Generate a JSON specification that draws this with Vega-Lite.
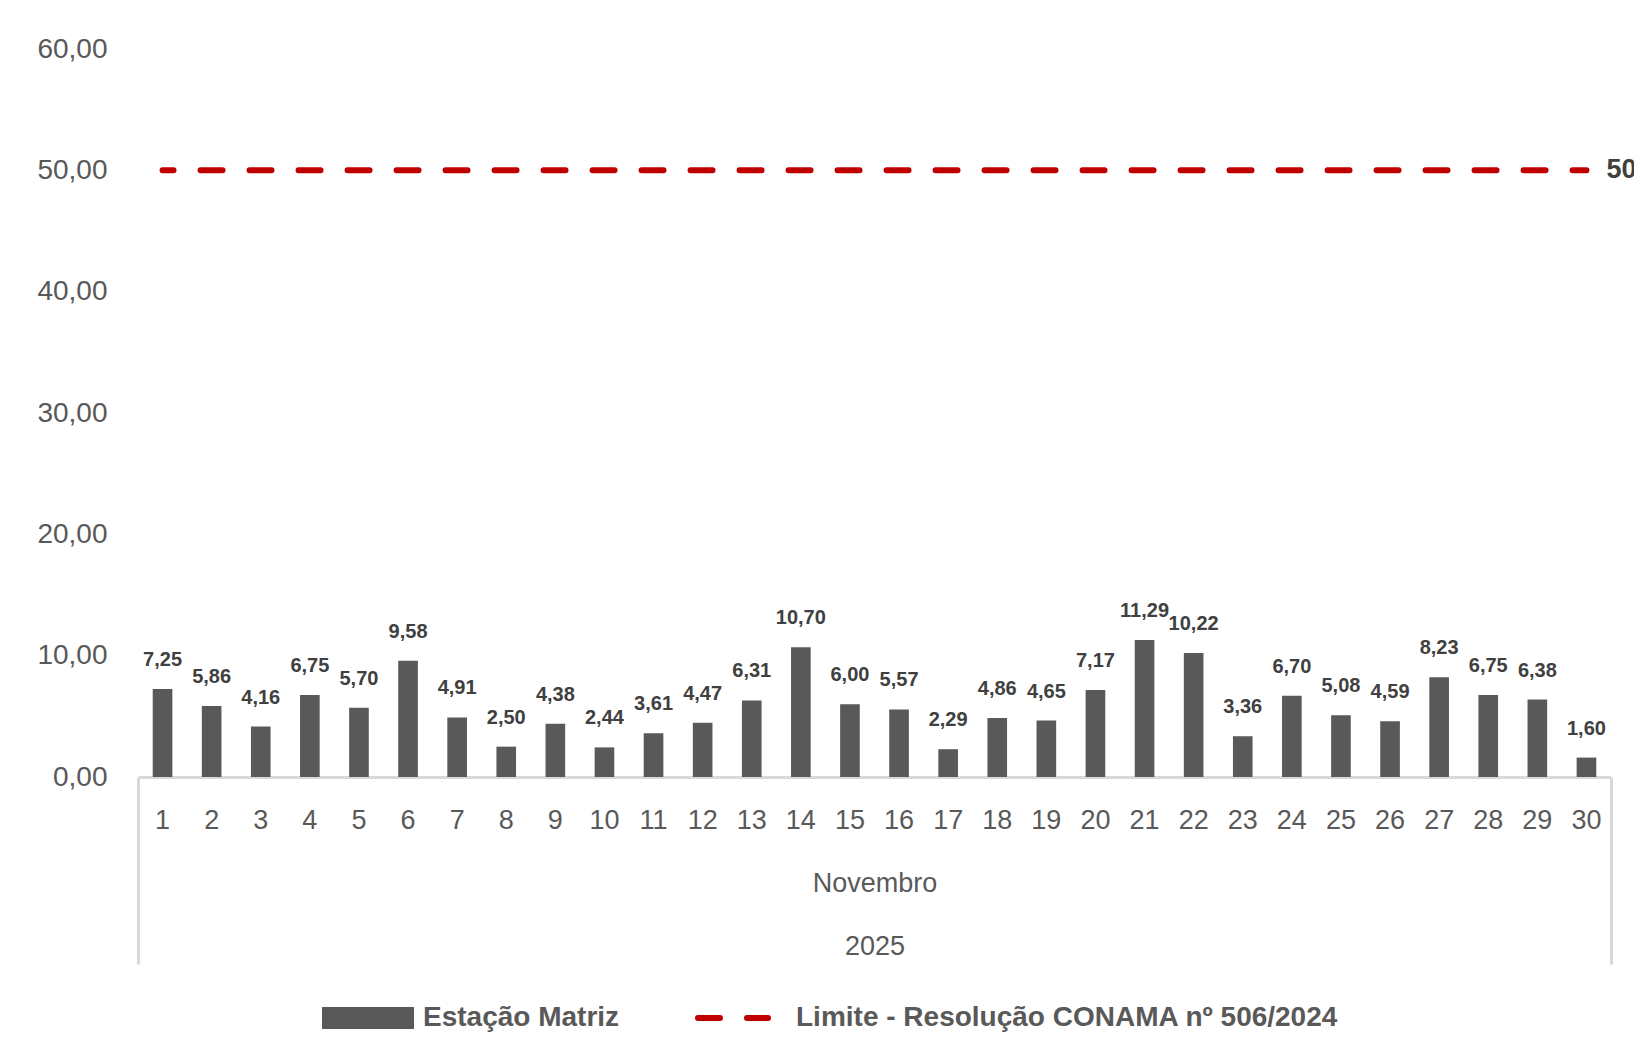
{
  "$schema": "https://vega.github.io/schema/vega-lite/v6.json",
  "autosize": {"type": "none"},
  "width": 1473,
  "height": 728,
  "padding": {"left": 138, "top": 49, "right": 23, "bottom": 283},
  "background": "white",
  "datasets": {
    "medicoes": [
      {"dia": 1, "valor": 7.25}, {"dia": 2, "valor": 5.86}, {"dia": 3, "valor": 4.16},
      {"dia": 4, "valor": 6.75}, {"dia": 5, "valor": 5.70}, {"dia": 6, "valor": 9.58},
      {"dia": 7, "valor": 4.91}, {"dia": 8, "valor": 2.50}, {"dia": 9, "valor": 4.38},
      {"dia": 10, "valor": 2.44}, {"dia": 11, "valor": 3.61}, {"dia": 12, "valor": 4.47},
      {"dia": 13, "valor": 6.31}, {"dia": 14, "valor": 10.70}, {"dia": 15, "valor": 6.00},
      {"dia": 16, "valor": 5.57}, {"dia": 17, "valor": 2.29}, {"dia": 18, "valor": 4.86},
      {"dia": 19, "valor": 4.65}, {"dia": 20, "valor": 7.17}, {"dia": 21, "valor": 11.29},
      {"dia": 22, "valor": 10.22}, {"dia": 23, "valor": 3.36}, {"dia": 24, "valor": 6.70},
      {"dia": 25, "valor": 5.08}, {"dia": 26, "valor": 4.59}, {"dia": 27, "valor": 8.23},
      {"dia": 28, "valor": 6.75}, {"dia": 29, "valor": 6.38}, {"dia": 30, "valor": 1.60}
    ],
    "limite": [
      {"dia": 1, "limite": 50},
      {"dia": 30, "limite": 50}
    ]
  },
  "layer": [
    {
      "data": {"name": "medicoes"},
      "encoding": {
        "x": {
          "field": "dia",
          "type": "ordinal",
          "scale": {"paddingInner": 0.6, "paddingOuter": 0.3},
          "axis": {
            "orient": "bottom",
            "title": ["Novembro", "2025"],
            "labelAngle": 0,
            "ticks": false,
            "grid": false,
            "domain": true,
            "domainColor": "#d9d9d9",
            "domainWidth": 3,
            "labelFont": "Liberation Sans",
            "labelFontSize": 27,
            "labelColor": "#595959",
            "labelPadding": 30,
            "titleFont": "Liberation Sans",
            "titleFontSize": 27,
            "titleFontWeight": "normal",
            "titleColor": "#595959",
            "titlePadding": 37,
            "titleLineHeight": 63
          }
        },
        "y": {
          "field": "valor",
          "type": "quantitative",
          "scale": {"domain": [0, 60]},
          "axis": {
            "values": [0, 10, 20, 30, 40, 50, 60],
            "format": ".2f",
            "title": null,
            "grid": false,
            "domain": false,
            "ticks": false,
            "labelFont": "Liberation Sans",
            "labelFontSize": 28,
            "labelColor": "#595959",
            "labelPadding": 31
          }
        }
      },
      "layer": [
        {
          "mark": {"type": "bar"},
          "encoding": {
            "color": {
              "datum": "Estação Matriz",
              "scale": {
                "domain": ["Estação Matriz", "Limite - Resolução CONAMA nº 506/2024"],
                "range": ["#595959", "#c00000"]
              },
              "legend": {
                "orient": "none",
                "direction": "horizontal",
                "legendX": 184,
                "legendY": 920,
                "title": null,
                "padding": 0,
                "symbolSize": 8464,
                "symbolStrokeWidth": 6,
                "symbolDash": [],
                "labelFont": "Liberation Sans",
                "labelFontSize": 28,
                "labelFontWeight": "bold",
                "labelColor": "#595959",
                "labelOffset": 3,
                "labelBaseline": "middle",
                "columnPadding": 66,
                "labelLimit": 800,
                "encode": {
                  "symbols": {
                    "update": {
                      "shape": {"signal": "datum.value === 'Estação Matriz' ? 'M0,-1M0,1M-1,-0.174H0.87V0.174H-1Z' : 'M0,-1M0,1M-1,0H-0.522M0.065,0H0.522'"},
                      "fill": {"signal": "datum.value === 'Estação Matriz' ? '#595959' : 'transparent'"},
                      "stroke": {"signal": "datum.value === 'Estação Matriz' ? 'transparent' : '#c00000'"},
                      "strokeWidth": {"value": 6},
                      "strokeCap": {"value": "round"},
                      "strokeDash": {"value": []},
                      "size": {"value": 8464},
                      "opacity": {"value": 1}
                    }
                  }
                }
              }
            }
          }
        },
        {
          "mark": {
            "type": "text",
            "font": "Liberation Sans",
            "fontSize": 20,
            "fontWeight": "bold",
            "color": "#404040",
            "baseline": "middle",
            "dy": -29
          },
          "encoding": {
            "text": {"field": "valor", "type": "quantitative", "format": ".2f"}
          }
        }
      ]
    },
    {
      "data": {"name": "limite"},
      "encoding": {
        "x": {
          "field": "dia",
          "type": "quantitative",
          "scale": {"domain": [0.5, 30.5], "nice": false, "zero": false},
          "axis": {
            "orient": "bottom",
            "values": [0.5, 30.5],
            "labels": false,
            "domain": false,
            "grid": false,
            "ticks": true,
            "tickSize": 187,
            "tickColor": "#d9d9d9",
            "tickWidth": 3,
            "title": null
          }
        },
        "y": {
          "field": "limite",
          "type": "quantitative",
          "scale": {"domain": [0, 60]}
        }
      },
      "layer": [
        {
          "mark": {
            "type": "line",
            "strokeWidth": 6,
            "strokeDash": [22, 27],
            "strokeDashOffset": 11,
            "strokeCap": "round"
          },
          "encoding": {
            "color": {
              "datum": "Limite - Resolução CONAMA nº 506/2024",
              "scale": {
                "domain": ["Estação Matriz", "Limite - Resolução CONAMA nº 506/2024"],
                "range": ["#595959", "#c00000"]
              }
            }
          }
        },
        {
          "transform": [{"filter": "datum.dia == 30"}],
          "mark": {
            "type": "text",
            "font": "Liberation Sans",
            "fontSize": 27,
            "fontWeight": "bold",
            "color": "#404040",
            "align": "left",
            "baseline": "middle",
            "dx": 20
          },
          "encoding": {
            "text": {"field": "limite", "type": "quantitative", "format": ".2f"}
          }
        }
      ]
    }
  ],
  "resolve": {"scale": {"x": "independent", "y": "shared"}, "axis": {"x": "independent"}},
  "config": {
    "locale": {"number": {"decimal": ",", "thousands": ".", "grouping": [3], "currency": ["R$", ""]}},
    "view": {"stroke": null}
  },
  "encoding": {}
}
